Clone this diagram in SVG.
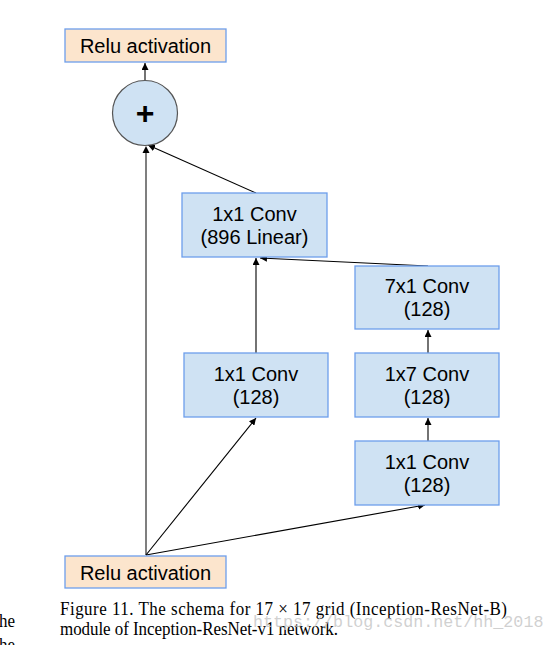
<svg xmlns="http://www.w3.org/2000/svg" width="555" height="645" viewBox="0 0 555 645">
<style>
.conv{fill:#cfe2f3;stroke:#6d9eeb;stroke-width:1.3}
.relu{fill:#fce5cd;stroke:#6d9eeb;stroke-width:1.3}
.lbl{font-family:"Liberation Sans",Arial,sans-serif;font-size:20px;fill:#000;text-anchor:middle}
.cap{font-family:"Liberation Serif","Times New Roman",serif;font-size:17px;fill:#000}
.edge{stroke:#000;stroke-width:1.1;fill:none;marker-end:url(#ah)}
.skip{stroke:#7f7f7f;stroke-width:2;fill:none}
</style>
<defs>
<marker id="ah" viewBox="0 0 10 10" refX="10" refY="5" markerWidth="7" markerHeight="7" markerUnits="userSpaceOnUse" orient="auto">
<path d="M0,0 L10,5 L0,10 z" fill="#000"/>
</marker>
</defs>
<rect width="555" height="645" fill="#fff"/>
<g id="connectors">
<line class="skip" x1="146" y1="555" x2="146" y2="152"/>
<path d="M142.5,153 L146,146 L149.5,153 z" fill="#000"/>
<line class="edge" x1="145" y1="80" x2="145" y2="63"/>
<line class="edge" x1="256" y1="193" x2="148" y2="145"/>
<line class="edge" x1="256" y1="353" x2="256" y2="258"/>
<line class="edge" x1="428" y1="266" x2="260" y2="258"/>
<line class="edge" x1="428" y1="353" x2="428" y2="330"/>
<line class="edge" x1="428" y1="441" x2="428" y2="418"/>
<line class="edge" x1="146" y1="555" x2="256" y2="418"/>
<line class="edge" x1="146" y1="555" x2="425" y2="505"/>
</g>
<g id="relu_top">
<rect class="relu" x="65" y="29" width="161" height="33"/>
<text class="lbl" x="145.5" y="53">Relu activation</text>
</g>
<g id="add">
<circle cx="145" cy="113" r="32.5" fill="#cfe2f3" stroke="#555" stroke-width="1.2"/>
<text x="145" y="123.5" font-family="Liberation Sans,Arial,sans-serif" font-size="32" font-weight="bold" text-anchor="middle">+</text>
</g>
<g id="conv_896">
<rect class="conv" x="182" y="193" width="145" height="64"/>
<text class="lbl" x="254.5" y="221">1x1 Conv</text>
<text class="lbl" x="254.5" y="244">(896 Linear)</text>
</g>
<g id="conv_7x1">
<rect class="conv" x="355" y="266" width="144" height="63"/>
<text class="lbl" x="427" y="293">7x1 Conv</text>
<text class="lbl" x="427" y="316">(128)</text>
</g>
<g id="conv_1x1_left">
<rect class="conv" x="184" y="353" width="144" height="64"/>
<text class="lbl" x="256" y="381">1x1 Conv</text>
<text class="lbl" x="256" y="404">(128)</text>
</g>
<g id="conv_1x7">
<rect class="conv" x="355" y="353" width="144" height="64"/>
<text class="lbl" x="427" y="381">1x7 Conv</text>
<text class="lbl" x="427" y="404">(128)</text>
</g>
<g id="conv_1x1_right">
<rect class="conv" x="355" y="441" width="144" height="64"/>
<text class="lbl" x="427" y="469">1x1 Conv</text>
<text class="lbl" x="427" y="492">(128)</text>
</g>
<g id="relu_bottom">
<rect class="relu" x="65" y="556" width="161" height="32"/>
<text class="lbl" x="145.5" y="580">Relu activation</text>
</g>
<g id="caption">
<g transform="translate(0,615) scale(1,1.15)">
<text class="cap" x="60" y="0" textLength="447" lengthAdjust="spacing">Figure 11. The schema for 17 × 17 grid (Inception-ResNet-B)</text>
</g>
<g transform="translate(0,634.5) scale(1,1.15)">
<text class="cap" x="60" y="0" textLength="278" lengthAdjust="spacing">module of Inception-ResNet-v1 network.</text>
</g>
<g transform="translate(0,627) scale(1,1.15)">
<text class="cap" x="-1" y="0">he</text>
</g>
<g transform="translate(0,651) scale(1,1.15)">
<text class="cap" x="-1" y="0">he</text>
</g>
<text x="253" y="627" font-family="Liberation Mono,Courier New,monospace" font-size="16.7" fill="#c8c8c8" fill-opacity="0.85">https://blog.csdn.net/hh_2018</text>
</g>
</svg>
